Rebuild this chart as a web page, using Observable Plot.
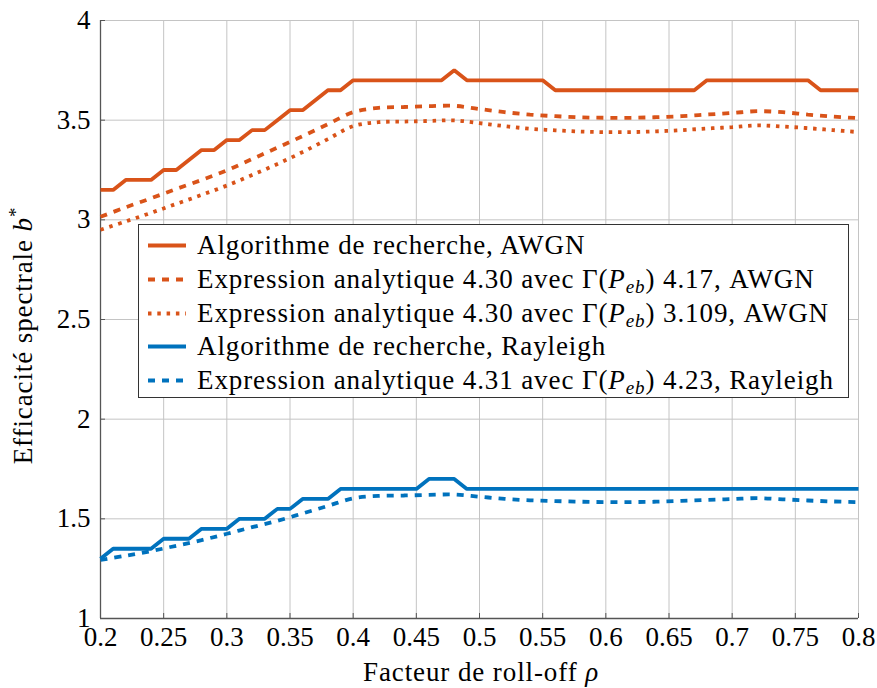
<!DOCTYPE html>
<html>
<head>
<meta charset="utf-8">
<script src="https://cdn.jsdelivr.net/npm/d3@7"></script>
<script src="https://cdn.jsdelivr.net/npm/@observablehq/plot@0.6"></script>
<style>
  body { margin: 0; background: #fff; }
  #wrap { position: relative; width: 877px; height: 688px; font-family: "Times New Roman", "Liberation Serif", Tinos, "DejaVu Serif", serif; color: #000; }
  .lbl { position: absolute; font-size: 27px; letter-spacing: 0.9px; white-space: nowrap; }
  #legend { position: absolute; left: 138px; top: 224px; width: 709px; height: 172px; border: 1.2px solid #333; background: #fff; }
  .row { position: absolute; left: 0; height: 34px; font-size: 27px; letter-spacing: 0.9px; white-space: nowrap; }
  .row svg { position: absolute; left: 9px; top: 0; }
  .row span.t { position: absolute; left: 58px; top: 0; line-height: 34px; }
  sub { font-size: 19px; vertical-align: -5px; line-height: 0; }
  svg text { font-family: "Times New Roman", "Liberation Serif", Tinos, "DejaVu Serif", serif; }
</style>
</head>
<body>
<div id="wrap"></div>
<script>
// ---- data ----
const rho = [0.20,0.21,0.22,0.23,0.24,0.25,0.26,0.27,0.28,0.29,0.30,0.31,0.32,0.33,0.34,0.35,0.36,0.37,0.38,0.39,
  0.40,0.41,0.42,0.43,0.44,0.45,0.46,0.47,0.48,0.49,0.50,0.51,0.52,0.53,0.54,0.55,0.56,0.57,0.58,0.59,
  0.60,0.61,0.62,0.63,0.64,0.65,0.66,0.67,0.68,0.69,0.70,0.71,0.72,0.73,0.74,0.75,0.76,0.77,0.78,0.79,0.80];
const awgnSearch = [3.15,3.15,3.20,3.20,3.20,3.25,3.25,3.30,3.35,3.35,3.40,3.40,3.45,3.45,3.50,3.55,3.55,3.60,3.65,3.65,
  3.70,3.70,3.70,3.70,3.70,3.70,3.70,3.70,3.75,3.70,3.70,3.70,3.70,3.70,3.70,3.70,3.65,3.65,3.65,3.65,
  3.65,3.65,3.65,3.65,3.65,3.65,3.65,3.65,3.70,3.70,3.70,3.70,3.70,3.70,3.70,3.70,3.70,3.65,3.65,3.65,3.65];
const rayleighSearch = [1.30,1.35,1.35,1.35,1.35,1.40,1.40,1.40,1.45,1.45,1.45,1.50,1.50,1.50,1.55,1.55,1.60,1.60,1.60,1.65,
  1.65,1.65,1.65,1.65,1.65,1.65,1.70,1.70,1.70,1.65,1.65,1.65,1.65,1.65,1.65,1.65,1.65,1.65,1.65,1.65,
  1.65,1.65,1.65,1.65,1.65,1.65,1.65,1.65,1.65,1.65,1.65,1.65,1.65,1.65,1.65,1.65,1.65,1.65,1.65,1.65,1.65];
const rhoA = [0.20,0.22,0.24,0.26,0.28,0.30,0.32,0.34,0.36,0.38,0.40,0.42,0.44,0.46,0.48,0.50,
  0.52,0.54,0.56,0.58,0.60,0.62,0.64,0.66,0.68,0.70,0.72,0.74,0.76,0.78,0.80];
const awgnAnalytic417 = [3.015,3.063,3.108,3.155,3.200,3.248,3.305,3.362,3.420,3.480,3.540,3.562,3.566,3.570,3.572,3.556,
  3.540,3.528,3.520,3.514,3.512,3.512,3.515,3.520,3.528,3.536,3.545,3.540,3.528,3.518,3.510];
const awgnAnalytic3109 = [2.950,2.992,3.035,3.080,3.125,3.172,3.225,3.280,3.340,3.405,3.470,3.490,3.493,3.496,3.499,3.485,
  3.470,3.457,3.449,3.443,3.440,3.440,3.444,3.450,3.458,3.465,3.474,3.468,3.460,3.450,3.440];
const rayleighAnalytic = [1.294,1.315,1.338,1.365,1.393,1.425,1.458,1.490,1.527,1.565,1.603,1.615,1.617,1.620,1.622,1.611,
  1.600,1.593,1.589,1.586,1.584,1.584,1.586,1.590,1.595,1.599,1.604,1.598,1.592,1.587,1.584];
const xTicks = [0.2,0.25,0.3,0.35,0.4,0.45,0.5,0.55,0.6,0.65,0.7,0.75,0.8];
const yTicks = [1,1.5,2,2.5,3,3.5,4];
const xTickLabels = ["0.2","0.25","0.3","0.35","0.4","0.45","0.5","0.55","0.6","0.65","0.7","0.75","0.8"];
const yTickLabels = ["1","1.5","2","2.5","3","3.5","4"];

const ORANGE = "#D95319", BLUE = "#0072BD";
const FONT = "'Times New Roman', 'Liberation Serif', Tinos, 'DejaVu Serif', serif";
const series = [
  {key: "s1", x: rho, y: awgnSearch, color: ORANGE, dash: null, curve: "linear",
   html: "Algorithme de recherche, AWGN"},
  {key: "s2", x: rhoA, y: awgnAnalytic417, color: ORANGE, dash: "7,7", curve: "catmull-rom",
   html: "Expression analytique 4.30 avec Γ(<i>P</i><sub><i>eb</i></sub>) 4.17, AWGN"},
  {key: "s3", x: rhoA, y: awgnAnalytic3109, color: ORANGE, dash: "3.5,5.8", curve: "catmull-rom",
   html: "Expression analytique 4.30 avec Γ(<i>P</i><sub><i>eb</i></sub>) 3.109, AWGN"},
  {key: "s4", x: rho, y: rayleighSearch, color: BLUE, dash: null, curve: "linear",
   html: "Algorithme de recherche, Rayleigh"},
  {key: "s5", x: rhoA, y: rayleighAnalytic, color: BLUE, dash: "7,7", curve: "catmull-rom",
   html: "Expression analytique 4.31 avec Γ(<i>P</i><sub><i>eb</i></sub>) 4.23, Rayleigh"}
];

const lineMarks = series.map(s => Plot.line(s.x.map((x, i) => ({x, y: s.y[i]})), {
  x: "x", y: "y", stroke: s.color, strokeWidth: 3.8, curve: s.curve,
  strokeDasharray: s.dash ?? undefined, strokeLinejoin: "miter", strokeLinecap: "butt"
}));

const chart = Plot.plot({
  width: 877, height: 688,
  marginLeft: 100, marginRight: 19, marginTop: 20, marginBottom: 70,
  style: {fontFamily: FONT, fontSize: "27px", color: "#000", background: "#fff"},
  x: {domain: [0.2, 0.8], label: null},
  y: {domain: [1, 4], label: null},
  marks: [
    Plot.gridX(xTicks, {stroke: "#c4c4c4", strokeOpacity: 1, strokeWidth: 1}),
    Plot.gridY(yTicks, {stroke: "#c4c4c4", strokeOpacity: 1, strokeWidth: 1}),
    Plot.axisX(xTicks, {tickSize: -5, tickPadding: 13, stroke: "#555", tickFormat: (d, i) => xTickLabels[i], fill: "#000"}),
    Plot.axisY(yTicks, {tickSize: -5, tickPadding: 15, stroke: "#555", tickFormat: (d, i) => yTickLabels[i], fill: "#000"}),
    Plot.ruleX([0.2], {stroke: "#555", strokeWidth: 1.3}),
    Plot.ruleY([1], {stroke: "#555", strokeWidth: 1.3}),
    ...lineMarks
  ]
});

const wrap = document.getElementById("wrap");
wrap.appendChild(chart);

// axis labels
const xl = document.createElement("div");
xl.className = "lbl";
xl.innerHTML = "Facteur de roll-off <i>ρ</i>";
wrap.appendChild(xl);
xl.style.left = (481 - xl.offsetWidth / 2) + "px";
xl.style.top = (672 - xl.offsetHeight / 2) + "px";

const yl = document.createElement("div");
yl.className = "lbl";
yl.innerHTML = "Efficacité spectrale <i>b</i><sup style='font-size:19px;line-height:0'>*</sup>";
wrap.appendChild(yl);
const w = yl.offsetWidth, h = yl.offsetHeight;
yl.style.left = (24 - w / 2) + "px";
yl.style.top = (335 - h / 2) + "px";
yl.style.transform = "rotate(-90deg)";

// legend
const leg = document.createElement("div");
leg.id = "legend";
series.forEach((s, i) => {
  const row = document.createElement("div");
  row.className = "row";
  row.style.top = (3 + i * 33.8) + "px";
  row.style.width = "705px";
  const dash = s.dash ? `stroke-dasharray="${s.dash}"` : "";
  row.innerHTML = `<svg width="40" height="34"><line x1="0" y1="17.5" x2="38" y2="17.5" stroke="${s.color}" stroke-width="3.8" ${dash}/></svg><span class="t">${s.html}</span>`;
  leg.appendChild(row);
});
wrap.appendChild(leg);
</script>
</body>
</html>
